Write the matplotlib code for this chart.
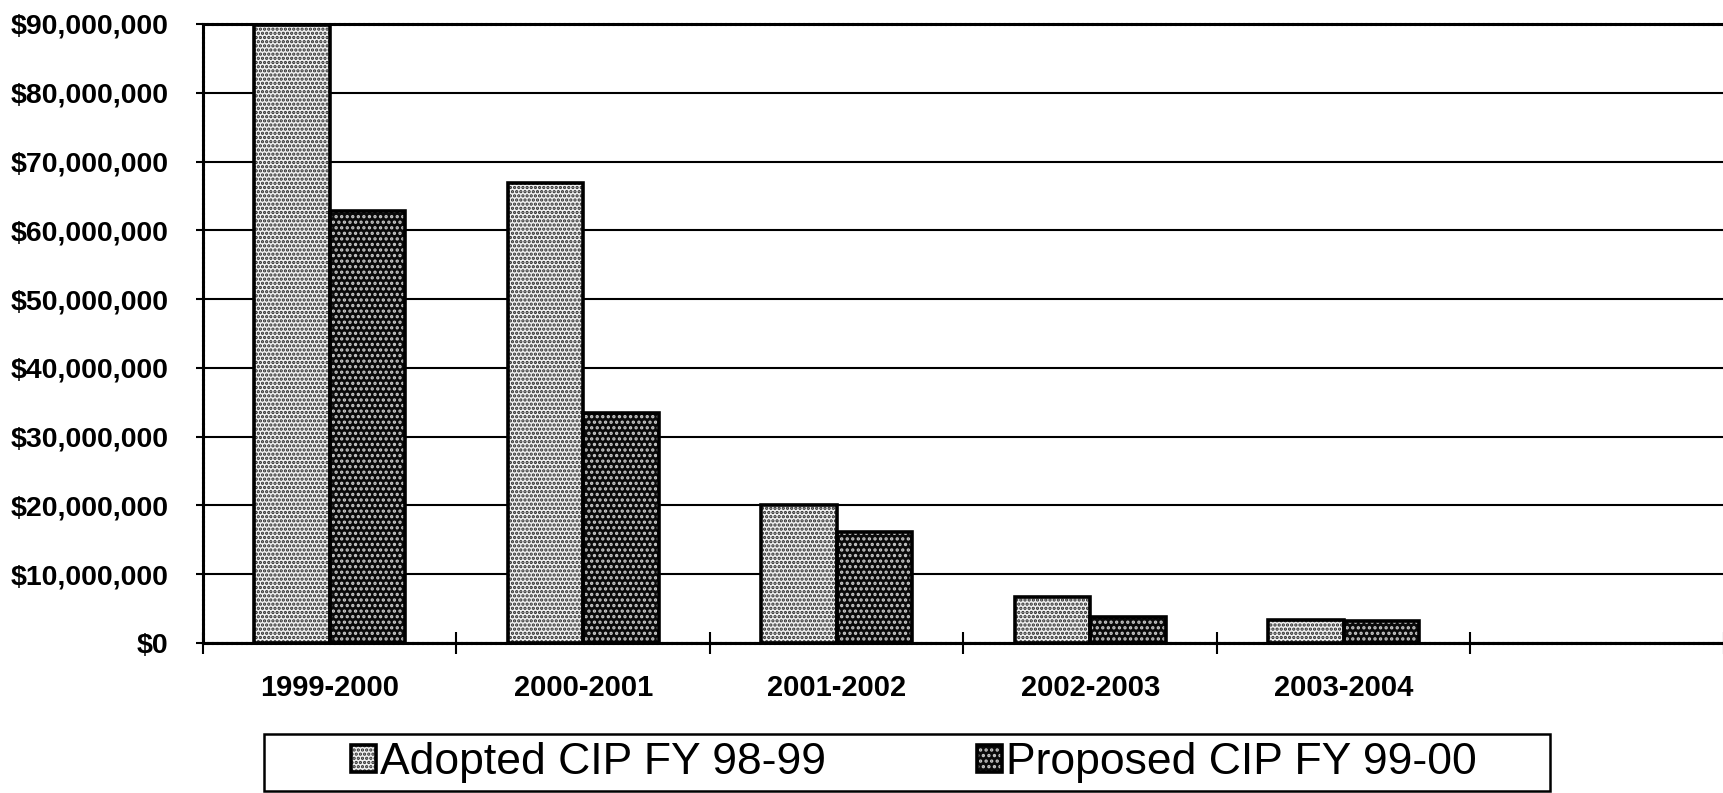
import numpy as np
import matplotlib.pyplot as plt
from matplotlib.patches import Patch, Rectangle
from matplotlib.legend_handler import HandlerTuple
from matplotlib.ticker import FuncFormatter, MultipleLocator, FixedLocator

plt.rcParams['font.family'] = ['Liberation Sans', 'DejaVu Sans']
plt.rcParams['hatch.linewidth'] = 1.6

# valores por ano fiscal (em dolares)
anos = ['1999-2000', '2000-2001', '2001-2002', '2002-2003', '2003-2004']
adotado = [89_900_000, 66_900_000, 20_000_000, 6_700_000, 3_400_000]
proposto = [62_800_000, 33_500_000, 16_200_000, 3_800_000, 3_200_000]
nome_adotado = 'Adopted CIP FY 98-99'
nome_proposto = 'Proposed CIP FY 99-00'
n_slots = 6  # o grafico reserva uma posicao vazia no fim

fig = plt.figure(figsize=(17.24, 7.93), dpi=100)
ax = fig.add_axes([203 / 1724, 1 - 643 / 793, 1 - 203 / 1724, (643 - 24) / 793])

x = np.arange(len(anos))
w = 0.297

estilo_a = dict(facecolor='#f0f0f0', edgecolor='#2a2a2a', hatch='....', linewidth=0)
estilo_p = dict(facecolor='#0a0a0a', edgecolor='#c8c8c8', hatch='...', linewidth=0)
contorno = dict(fill=False, edgecolor='black', linewidth=2.6)

# preenchimento pontilhado e depois o contorno preto por cima
ax.bar(x - w / 2, adotado, w, zorder=3, **estilo_a)
ax.bar(x + w / 2, proposto, w, zorder=3, **estilo_p)
ax.bar(x - w / 2, adotado, w, zorder=4, **contorno)
ax.bar(x + w / 2, proposto, w, zorder=4, **contorno)

ax.set_xlim(-0.5, n_slots - 0.5)
ax.set_ylim(0, 90_000_000)

# eixo y
ax.yaxis.set_major_locator(MultipleLocator(10_000_000))
ax.yaxis.set_major_formatter(FuncFormatter(lambda v, p: f'${v:,.0f}'))
ax.grid(axis='y', color='black', linewidth=1.5, zorder=1)
ax.tick_params(axis='y', length=5, width=1.5, pad=20, labelsize=20.5)
for t in ax.get_yticklabels():
    t.set_fontweight('bold')

# eixo x: marcas entre as categorias, rotulos no centro
ax.xaxis.set_major_locator(FixedLocator(np.arange(n_slots + 1) - 0.5))
ax.xaxis.set_minor_locator(FixedLocator(x))
ax.set_xticklabels([])
ax.set_xticklabels(anos, minor=True, fontsize=21, fontweight='bold')
ax.tick_params(axis='x', which='major', direction='inout', length=16, width=1.5)
ax.tick_params(axis='x', which='minor', length=0, pad=22)

for lado in ['top', 'left', 'bottom']:
    ax.spines[lado].set_linewidth(2.2)
    ax.spines[lado].set_linestyle((0, (1.2, 0.4)))
ax.spines['right'].set_visible(False)

# caixa da legenda
x0, x1, y0, y1 = 264 / 1724, 1550 / 1724, 1 - 791 / 793, 1 - 734 / 793
fig.patches.append(Rectangle((x0, y0), x1 - x0, y1 - y0, transform=fig.transFigure,
                             facecolor='white', edgecolor='black', linewidth=1.8))

# legenda com o mesmo padrao das barras
h_a = (Patch(**estilo_a), Patch(**contorno))
h_p = (Patch(**estilo_p), Patch(**contorno))
leg = fig.legend([h_a, h_p], [nome_adotado, nome_proposto],
                 handler_map={tuple: HandlerTuple(ndivide=1, pad=0)},
                 loc='center', ncol=2, bbox_to_anchor=((x0 + x1) / 2 + 0.004, (y0 + y1) / 2),
                 fontsize=32, handlelength=0.55, handleheight=0.55, handletextpad=0.1,
                 columnspacing=3.4, borderpad=0, frameon=False)

fig.savefig('out.png', dpi=100)
